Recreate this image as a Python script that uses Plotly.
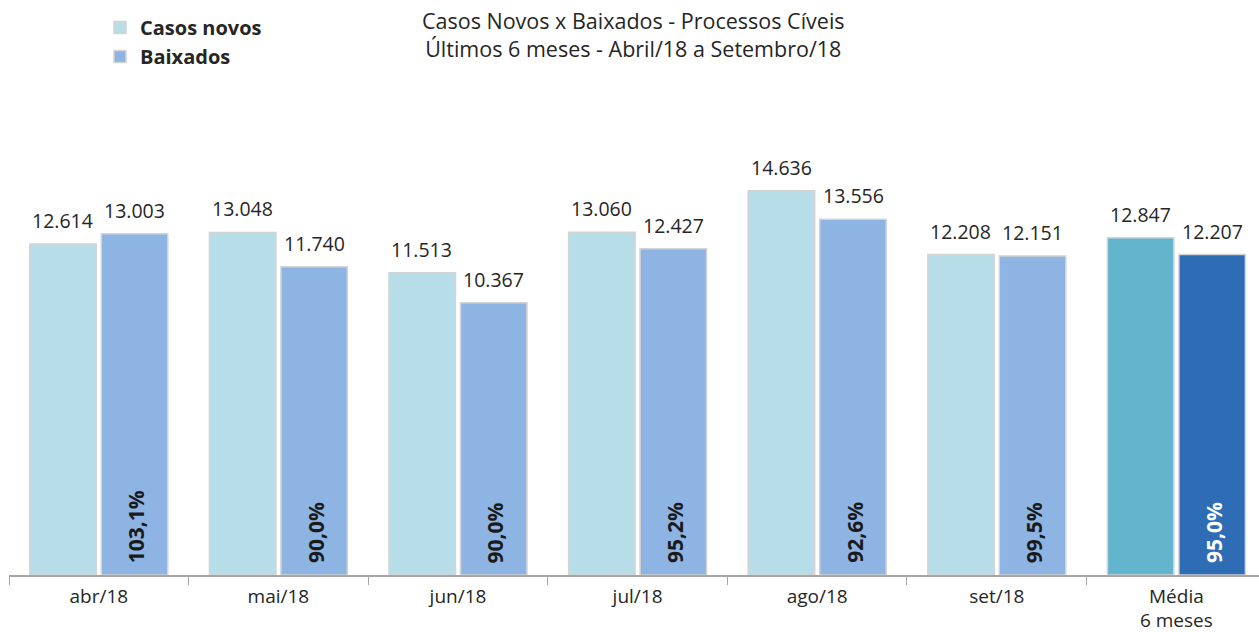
import plotly.graph_objects as go

categories = ["abr/18", "mai/18", "jun/18", "jul/18", "ago/18", "set/18", "Média<br>6 meses"]
casos_novos = [12614, 13048, 11513, 13060, 14636, 12208, 12847]
baixados = [13003, 11740, 10367, 12427, 13556, 12151, 12207]
percentuais = [103.1, 90.0, 90.0, 95.2, 92.6, 99.5, 95.0]

casos_colors = ["#b7dde9"] * 6 + ["#63b5cd"]
baix_colors = ["#8eb4e3"] * 6 + ["#2e6db5"]
pct_colors = ["#1a1a1a"] * 6 + ["#ffffff"]

def fmt_int(v):
    return f"{v:,}".replace(",", ".")

def fmt_pct(p):
    return f"{p:.1f}%".replace(".", ",")

FONT = "Open Sans"

fig = go.Figure()
fig.add_trace(go.Bar(
    name="Casos novos", x=categories, y=casos_novos,
    marker=dict(color=casos_colors, line=dict(color="#d4d4d4", width=1.5)),
    hoverinfo="x+y",
))
fig.add_trace(go.Bar(
    name="Baixados", x=categories, y=baixados,
    marker=dict(color=baix_colors, line=dict(color="#d4d4d4", width=1.5)),
    hoverinfo="x+y",
))

annotations = []
for i, c in enumerate(categories):
    for val, shift in ((casos_novos[i], -36), (baixados[i], 36)):
        annotations.append(dict(
            x=c, y=val, xref="x", yref="y", text=fmt_int(val),
            showarrow=False, xshift=shift, yshift=8, yanchor="bottom",
            font=dict(family=FONT, size=19.5, color="#262626"),
        ))
    annotations.append(dict(
        x=c, y=0, xref="x", yref="y", text="<b>" + fmt_pct(percentuais[i]) + "</b>",
        showarrow=False, xshift=37, yshift=10, yanchor="bottom", textangle=-90,
        font=dict(family=FONT, size=21, color=pct_colors[i]),
    ))

fig.update_layout(
    width=1259, height=632,
    paper_bgcolor="white", plot_bgcolor="white",
    margin=dict(l=9, r=0, t=155, b=57),
    barmode="group", bargap=0.204, bargroupgap=0.07,
    font=dict(family=FONT, color="#262626"),
    title=dict(
        text="Casos Novos x Baixados - Processos Cíveis<br>Últimos 6 meses - Abril/18 a Setembro/18",
        x=0.503, xanchor="center", y=0.954, yanchor="top",
        font=dict(family=FONT, size=21.5, color="#262626"),
    ),
    legend=dict(
        x=0.0728, xanchor="left", y=1.35, yanchor="top",
        font=dict(family=FONT, size=20, color="#262626", weight="bold"),
        bgcolor="rgba(0,0,0,0)", itemwidth=30, tracegroupgap=0,
    ),
    annotations=annotations,
    showlegend=True,
)
fig.update_xaxes(
    range=[-0.5, 6.46], showline=True, linecolor="#a6a6a6", linewidth=1.5,
    ticks="outside", tickson="boundaries", ticklen=8, tickcolor="#a6a6a6",
    tickfont=dict(family=FONT, size=19, color="#262626"), ticklabelstandoff=3,
    showgrid=False, zeroline=False, fixedrange=True,
)
fig.update_yaxes(range=[0, 16000], visible=False, showgrid=False, fixedrange=True)

fig.write_html("out.html", config={"displayModeBar": False},
               post_script="document.body.style.margin='0';document.body.style.overflow='hidden';")
